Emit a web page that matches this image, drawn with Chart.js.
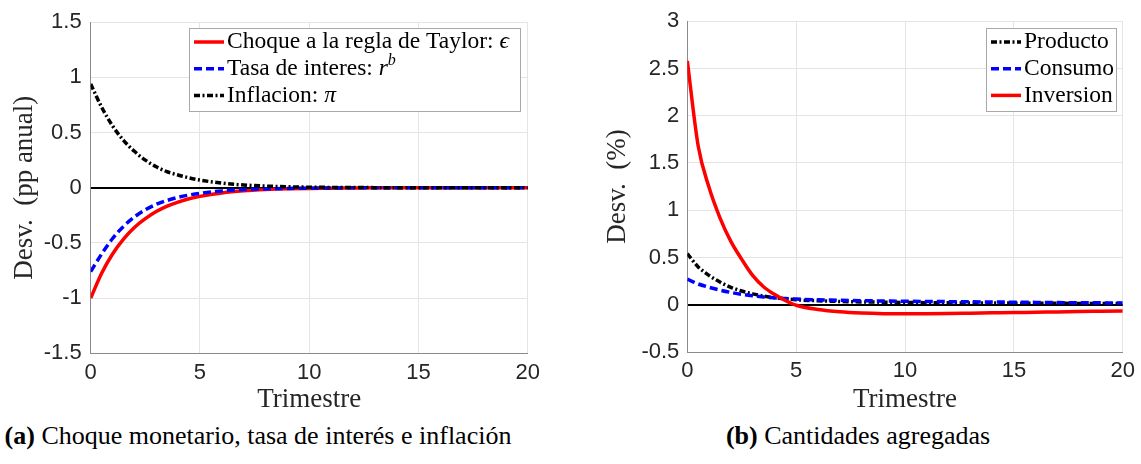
<!DOCTYPE html>
<html>
<head>
<meta charset="utf-8">
<script src="https://cdn.jsdelivr.net/npm/chart.js@4.4.1/dist/chart.umd.min.js"></script>
<style>
  body { margin: 0; background: #fff; }
  #fig { position: relative; width: 1141px; height: 464px; }
  canvas { position: absolute; top: 0; }
  .cap { position: absolute; top: 421px; font-family: "Liberation Serif", serif; font-size: 26px; line-height: 30px; color: #000; text-align: center; white-space: nowrap; }
</style>
</head>
<body>
<div id="fig">
  <canvas id="chartA" width="570" height="420" style="left:0"></canvas>
  <canvas id="chartB" width="571" height="420" style="left:570px"></canvas>
  <div class="cap" style="left:0; width:516px"><b>(a)</b> Choque monetario, tasa de interés e inflación</div>
  <div class="cap" style="left:600px; width:516px"><b>(b)</b> Cantidades agregadas</div>
</div>
<script>
// Trimestres (eje x)
var trimestres = [0, 0.5, 1, 1.5, 2, 2.5, 3, 3.5, 4, 4.5, 5, 6, 7, 8, 9, 10, 11, 12, 13, 14, 15, 16, 17, 18, 19, 20];
var ticksX = [0, 5, 10, 15, 20];

// (a) choque monetario
var choqueTaylor = [-1, -0.775, -0.6, -0.465, -0.36, -0.28, -0.216, -0.167, -0.13, -0.1, -0.078, -0.047, -0.028, -0.017, -0.01, -0.006, -0.004, -0.002, -0.001, -0.001, 0, 0, 0, 0, 0, 0];
var tasaInteres = [-0.76, -0.6, -0.46, -0.35, -0.265, -0.2, -0.15, -0.115, -0.087, -0.066, -0.05, -0.029, -0.017, -0.01, -0.006, -0.004, -0.002, -0.001, -0.001, 0, 0, 0, 0, 0, 0, 0];
var inflacion = [0.94, 0.73, 0.56, 0.43, 0.33, 0.25, 0.19, 0.145, 0.115, 0.09, 0.07, 0.042, 0.025, 0.015, 0.009, 0.005, 0.003, 0.002, 0.001, 0, 0, 0, 0, 0, 0, 0];
var ticksYA = [-1.5, -1, -0.5, 0, 0.5, 1, 1.5];

// (b) cantidades agregadas
var producto = [0.54, 0.4, 0.31, 0.24, 0.185, 0.145, 0.115, 0.092, 0.075, 0.062, 0.053, 0.042, 0.035, 0.03, 0.027, 0.024, 0.022, 0.02, 0.019, 0.018, 0.017, 0.016, 0.015, 0.014, 0.013, 0.012];
var consumo = [0.27, 0.22, 0.185, 0.155, 0.13, 0.11, 0.095, 0.083, 0.073, 0.066, 0.06, 0.052, 0.047, 0.043, 0.04, 0.037, 0.035, 0.033, 0.031, 0.029, 0.027, 0.025, 0.023, 0.021, 0.02, 0.018];
var inversion = [2.58, 1.68, 1.24, 0.92, 0.67, 0.48, 0.31, 0.19, 0.11, 0.045, -0.005, -0.05, -0.075, -0.088, -0.094, -0.095, -0.094, -0.092, -0.089, -0.086, -0.083, -0.079, -0.076, -0.072, -0.069, -0.066];
var ticksYB = [-0.5, 0, 0.5, 1, 1.5, 2, 2.5, 3];

var TICK_FONT = { family: 'Liberation Sans', size: 22 };
var TITLE_FONT = { family: 'Liberation Serif', size: 27, lineHeight: 1.2 };
var GRID = '#e4e4e4';
var AXIS = '#8a8a8a';

function puntos(ys) {
    return trimestres.map(function (x, i) { return { x: x, y: ys[i] }; });
}

function serie(label, ys, color, dash, order) {
    return {
        label: label,
        data: puntos(ys),
        borderColor: color,
        borderWidth: 3.5,
        borderDash: dash,
        pointRadius: 0,
        fill: false,
        cubicInterpolationMode: 'monotone',
        order: order
    };
}

// Legend drawn inside the plot, MATLAB style
var leyenda = {
    id: 'leyenda',
    afterDatasetsDraw: function (chart, args, opts) {
        var ctx = chart.ctx, b = opts.box;
        ctx.save();
        ctx.fillStyle = '#fff';
        ctx.fillRect(b.x, b.y, b.w, b.h);
        ctx.strokeStyle = '#a8a8a8';
        ctx.lineWidth = 1;
        ctx.setLineDash([]);
        ctx.strokeRect(b.x + 0.5, b.y + 0.5, b.w, b.h);
        opts.items.forEach(function (it, i) {
            var ds = chart.data.datasets[it.ds];
            var y = b.y + 14 + i * 26.7;
            ctx.beginPath();
            ctx.setLineDash(ds.borderDash || []);
            ctx.strokeStyle = ds.borderColor;
            ctx.lineWidth = ds.borderWidth;
            ctx.moveTo(b.x + 5, y);
            ctx.lineTo(b.x + 35, y);
            ctx.stroke();
            ctx.setLineDash([]);
            var x = b.x + 38;
            ctx.fillStyle = '#000';
            ctx.textBaseline = 'middle';
            it.parts.forEach(function (p) {
                ctx.font = (p.i ? 'italic ' : '') + (p.sup ? '16px' : '23.5px') + ' "Liberation Serif", "DejaVu Serif"';
                ctx.fillText(p.t, x, p.sup ? y - 8 : y);
                x += ctx.measureText(p.t).width;
            });
        });
        ctx.restore();
    }
};

function ejes(yMin, yMax, yTicks, yTitle, yWidth, yTitlePad, yTickPad, xHeight) {
    return {
        x: {
            type: 'linear', min: 0, max: 20,
            afterBuildTicks: function (s) { s.ticks = ticksX.map(function (v) { return { value: v }; }); },
            afterFit: function (s) { s.height = xHeight; },
            ticks: { font: TICK_FONT, color: '#262626', padding: 6, maxRotation: 0, autoSkip: false,
                     callback: function (v) { return String(v); } },
            grid: { color: GRID, lineWidth: 1, drawTicks: false },
            border: { color: AXIS, width: 1 },
            title: { display: true, text: 'Trimestre', font: TITLE_FONT, color: '#262626', padding: { top: 0, bottom: 4 } }
        },
        y: {
            type: 'linear', min: yMin, max: yMax,
            afterBuildTicks: function (s) { s.ticks = yTicks.map(function (v) { return { value: v }; }); },
            afterFit: function (s) { s.width = yWidth; },
            ticks: { font: TICK_FONT, color: '#262626', padding: yTickPad, autoSkip: false,
                     callback: function (v) { return String(v); } },
            grid: {
                drawTicks: false,
                color: function (c) { return c.tick && c.tick.value === 0 ? '#000' : GRID; },
                lineWidth: function (c) { return c.tick && c.tick.value === 0 ? 2 : 1; }
            },
            border: { color: AXIS, width: 1 },
            title: { display: true, text: yTitle, font: TITLE_FONT, color: '#262626', padding: { top: yTitlePad, bottom: 0 } }
        }
    };
}

new Chart(document.getElementById('chartA').getContext('2d'), {
    type: 'line',
    data: {
        datasets: [
            serie('Choque a la regla de Taylor: ϵ', choqueTaylor, '#ff0000', [], 3),
            serie('Tasa de interes: r^b', tasaInteres, '#0000ff', [8, 4], 2),
            serie('Inflacion: π', inflacion, '#000000', [6, 2.5, 2, 2.5], 1)
        ]
    },
    options: {
        responsive: false, animation: false, devicePixelRatio: 1,
        layout: { padding: { left: 0, top: 19, right: 42.3, bottom: 0 } },
        scales: ejes(-1.5, 1.5, ticksYA, 'Desv.  (pp anual)', 90.7, 8.8, 9, 66.7),
        plugins: {
            legend: { display: false },
            tooltip: { enabled: false },
            leyenda: {
                box: { x: 189, y: 28, w: 331, h: 83 },
                items: [
                    { ds: 0, parts: [{ t: 'Choque a la regla de Taylor: ' }, { t: 'ϵ', i: true }] },
                    { ds: 1, parts: [{ t: 'Tasa de interes: ' }, { t: 'r', i: true }, { t: 'b', i: true, sup: true }] },
                    { ds: 2, parts: [{ t: 'Inflacion: ' }, { t: 'π', i: true }] }
                ]
            }
        }
    },
    plugins: [leyenda]
});

new Chart(document.getElementById('chartB').getContext('2d'), {
    type: 'line',
    data: {
        datasets: [
            serie('Producto', producto, '#000000', [6, 2.5, 2, 2.5], 3),
            serie('Consumo', consumo, '#0000ff', [8, 4], 2),
            serie('Inversion', inversion, '#ff0000', [], 1)
        ]
    },
    options: {
        responsive: false, animation: false, devicePixelRatio: 1,
        layout: { padding: { left: 0, top: 18.3, right: 16.5, bottom: 0 } },
        scales: ejes(-0.5, 3, ticksYB, 'Desv.  (%)', 117.3, 31.8, 8, 68),
        plugins: {
            legend: { display: false },
            tooltip: { enabled: false },
            leyenda: {
                box: { x: 416, y: 28, w: 130, h: 83 },
                items: [
                    { ds: 0, parts: [{ t: 'Producto' }] },
                    { ds: 1, parts: [{ t: 'Consumo' }] },
                    { ds: 2, parts: [{ t: 'Inversion' }] }
                ]
            }
        }
    },
    plugins: [leyenda]
});
</script>
</body>
</html>
